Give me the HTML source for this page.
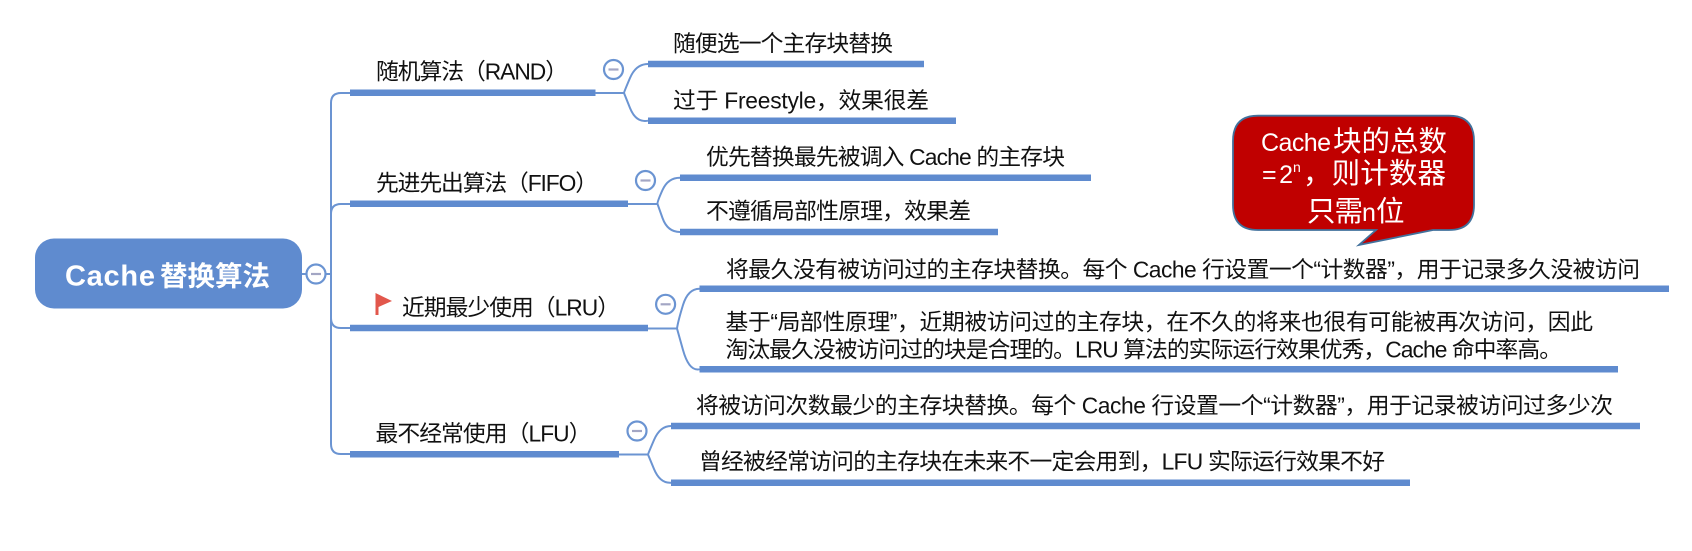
<!DOCTYPE html>
<html><head><meta charset="utf-8">
<style>
html,body{margin:0;padding:0;background:#fff;width:1692px;height:551px;overflow:hidden}
svg{display:block;filter:blur(0.35px)}
text{font-family:"Liberation Sans","Noto Sans CJK SC",sans-serif;fill:#111;font-size:22.8px}
.bar{stroke:#5f8bcf;stroke-width:6.5;fill:none}
.ln{stroke:#6b94d2;stroke-width:2;fill:none}
.c{fill:#fff;stroke:#6b94d2;stroke-width:2.2}
.m{stroke:#a3a6c4;stroke-width:2.2}
text.w{fill:#fff}
</style></head><body>
<svg width="1692" height="551" viewBox="0 0 1692 551" xmlns="http://www.w3.org/2000/svg">
<!-- root -->
<rect x="35" y="238.5" width="267" height="70" rx="19" fill="#5f8bcf"/>
<text class="w" x="65" y="285.5" style="font-size:29px;font-weight:700" textLength="90">Cache</text>
<text class="w" x="160" y="285.5" style="font-size:27.5px;font-weight:700" textLength="110">替换算法</text>
<line class="ln" x1="302" y1="274" x2="331" y2="274"/>
<!-- trunk -->
<path class="ln" d="M350 93H341Q331 93 331 103V444Q331 454 341 454H350M331 214Q331 204 341 204H350M331 318Q331 328 341 328H350"/>
<circle class="c" cx="316" cy="274" r="9.5"/><line class="m" x1="311" y1="274" x2="321" y2="274"/>
<!-- branch 1 -->
<line class="bar" x1="350" y1="92.7" x2="595.5" y2="92.7"/>
<text x="376" y="79.5" textLength="192">随机算法（RAND）</text>
<path class="ln" d="M595 93H624M648 64Q636 64 630 78T624 93Q624 93 630 108T648 120.7"/>
<circle class="c" cx="613.5" cy="69.5" r="9.5"/><line class="m" x1="608.5" y1="69.5" x2="618.5" y2="69.5"/>
<line class="bar" x1="648" y1="64" x2="924" y2="64"/>
<line class="bar" x1="648" y1="120.7" x2="956" y2="120.7"/>
<text x="673" y="51.5" textLength="220">随便选一个主存块替换</text>
<text x="673" y="108.5" textLength="256">过于 Freestyle，效果很差</text>
<!-- branch 2 -->
<line class="bar" x1="350" y1="203.7" x2="628" y2="203.7"/>
<text x="376" y="191.2" textLength="222">先进先出算法（FIFO）</text>
<path class="ln" d="M628 204H657.5M680 177.7Q668 177.7 662.5 190T657.5 204Q657.5 204 662.5 218T680 232"/>
<circle class="c" cx="645.5" cy="180.5" r="9.5"/><line class="m" x1="640.5" y1="180.5" x2="650.5" y2="180.5"/>
<line class="bar" x1="680" y1="177.7" x2="1091" y2="177.7"/>
<line class="bar" x1="680" y1="232" x2="998" y2="232"/>
<text x="706" y="165.2" textLength="359">优先替换最先被调入 Cache 的主存块</text>
<text x="706" y="219.2" textLength="265">不遵循局部性原理，效果差</text>
<!-- branch 3 -->
<line class="bar" x1="350" y1="328" x2="648" y2="328"/>
<path fill="#e2574c" d="M375.5 293L392 301L378.5 307V315H375.5Z"/>
<text x="402" y="315.5" textLength="218">近期最少使用（LRU）</text>
<path class="ln" d="M648 328.5H677M699.5 288.7Q688 288.7 683 305T677 328.5Q677 328.5 683 350T699.5 369.3"/>
<circle class="c" cx="665.6" cy="304.3" r="9.5"/><line class="m" x1="660.6" y1="304.3" x2="670.6" y2="304.3"/>
<line class="bar" x1="699.5" y1="288.7" x2="1669" y2="288.7"/>
<line class="bar" x1="699.5" y1="369.3" x2="1618" y2="369.3"/>
<text x="726" y="277.5" textLength="914">将最久没有被访问过的主存块替换。每个 Cache 行设置一个“计数器”，用于记录多久没被访问</text>
<text x="725.5" y="330" textLength="867.5">基于“局部性原理”，近期被访问过的主存块，在不久的将来也很有可能被再次访问，因此</text>
<text x="725.5" y="357.5" textLength="836.5">淘汰最久没被访问过的块是合理的。LRU 算法的实际运行效果优秀，Cache 命中率高。</text>
<!-- branch 4 -->
<line class="bar" x1="350" y1="454.3" x2="619" y2="454.3"/>
<text x="375.5" y="441.5" textLength="216">最不经常使用（LFU）</text>
<path class="ln" d="M619 454.5H648M671 426Q660 426 654 440T648 454.5Q648 454.5 654 469T671 482.7"/>
<circle class="c" cx="637" cy="431" r="9.5"/><line class="m" x1="632" y1="431" x2="642" y2="431"/>
<line class="bar" x1="671" y1="426" x2="1640" y2="426"/>
<line class="bar" x1="671" y1="482.7" x2="1410" y2="482.7"/>
<text x="696" y="413.5" textLength="917">将被访问次数最少的主存块替换。每个 Cache 行设置一个“计数器”，用于记录被访问过多少次</text>
<text x="699" y="469.5" textLength="686">曾经被经常访问的主存块在未来不一定会用到，LFU 实际运行效果不好</text>
<!-- callout -->
<path d="M1258 115.7H1449Q1474 115.7 1474 141V205Q1474 230 1449 230H1433L1359 245L1376 230H1258Q1233 230 1233 205V141Q1233 115.7 1258 115.7Z" fill="#c00000" stroke="#41719c" stroke-width="1.8"/>
<text class="w" x="1261" y="151" style="font-size:25px" textLength="70">Cache</text>
<text class="w" x="1333" y="151" style="font-size:28.5px" textLength="114">块的总数</text>
<text class="w" x="1262" y="183" style="font-size:25px" textLength="31">=2</text>
<text class="w" x="1293" y="172" style="font-size:14px">n</text>
<text class="w" x="1303" y="183" style="font-size:28.5px" textLength="143">，则计数器</text>
<text class="w" x="1307" y="221" style="font-size:28.5px" textLength="56">只需</text>
<text class="w" x="1362" y="221" style="font-size:25px">n</text>
<text class="w" x="1376" y="221" style="font-size:28.5px">位</text>
</svg>
</body></html>
